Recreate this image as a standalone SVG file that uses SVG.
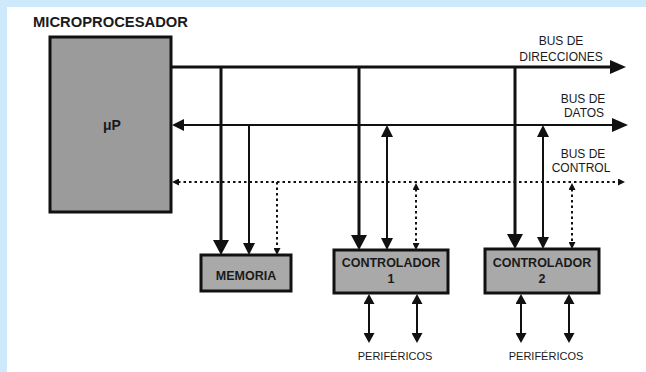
<svg xmlns="http://www.w3.org/2000/svg" width="646" height="372" viewBox="0 0 646 372">
<style>
.lbl{font-family:"Liberation Sans",Arial,sans-serif;fill:#1a1a1a}
.b{font-weight:bold}
.box{stroke:#111;stroke-width:3}
.addr{fill:none;stroke:#111;stroke-width:3}
.data{fill:none;stroke:#111;stroke-width:2}
.ctrl{fill:none;stroke:#111;stroke-width:2;stroke-dasharray:2.5 3}
</style>
<defs>
<marker id="ah-bus" markerUnits="userSpaceOnUse" viewBox="0 0 16 14" markerWidth="16" markerHeight="14" refX="1" refY="7" orient="auto-start-reverse"><path d="M0,0 L16,7 L0,14 z" fill="#111"/></marker>
<marker id="ah-big" markerUnits="userSpaceOnUse" viewBox="0 0 15 16" markerWidth="15" markerHeight="16" refX="1" refY="8" orient="auto-start-reverse"><path d="M0,0 L15,8 L0,16 z" fill="#111"/></marker>
<marker id="ah-mid" markerUnits="userSpaceOnUse" viewBox="0 0 12 12" markerWidth="12" markerHeight="12" refX="1" refY="6" orient="auto-start-reverse"><path d="M0,0 L12,6 L0,12 z" fill="#111"/></marker>
<marker id="ah-per" markerUnits="userSpaceOnUse" viewBox="0 0 10 11" markerWidth="10" markerHeight="11" refX="1" refY="5.5" orient="auto-start-reverse"><path d="M0,0 L10,5.5 L0,11 z" fill="#111"/></marker>
<marker id="ah-small" markerUnits="userSpaceOnUse" viewBox="0 0 7 7" markerWidth="7" markerHeight="7" refX="1" refY="3.5" orient="auto-start-reverse"><path d="M0,0 L7,3.5 L0,7 z" fill="#111"/></marker>
</defs>
<rect x="0" y="0" width="646" height="372" fill="#cde9fb"/>
<rect x="7" y="7" width="639" height="365" fill="#ffffff"/>
<text class="lbl b" x="33" y="27" font-size="14.5" textLength="155" lengthAdjust="spacingAndGlyphs">MICROPROCESADOR</text>

<g id="connectors">
<path class="addr" d="M171,67 H611" marker-end="url(#ah-bus)"/>
<path class="data" d="M183,125 H613" marker-start="url(#ah-mid)" marker-end="url(#ah-bus)"/>
<path class="ctrl" d="M178,182 H619" marker-start="url(#ah-small)" marker-end="url(#ah-small)"/>
<path class="addr" d="M221,67 V241" marker-end="url(#ah-big)"/>
<path class="data" d="M249,125 V244" marker-end="url(#ah-mid)"/>
<path class="ctrl" d="M277,182 V249" marker-end="url(#ah-small)"/>
<path class="addr" d="M359,67 V236" marker-end="url(#ah-big)"/>
<path class="data" d="M387,136 V239" marker-start="url(#ah-mid)" marker-end="url(#ah-mid)"/>
<path class="ctrl" d="M416,189 V244" marker-start="url(#ah-small)" marker-end="url(#ah-small)"/>
<path class="addr" d="M515,67 V235" marker-end="url(#ah-big)"/>
<path class="data" d="M543,136 V238" marker-start="url(#ah-mid)" marker-end="url(#ah-mid)"/>
<path class="ctrl" d="M572,189 V243" marker-start="url(#ah-small)" marker-end="url(#ah-small)"/>
<path class="data" d="M369,303 V334" marker-start="url(#ah-per)" marker-end="url(#ah-per)"/>
<path class="data" d="M417,303 V334" marker-start="url(#ah-per)" marker-end="url(#ah-per)"/>
<path class="data" d="M521,303 V334" marker-start="url(#ah-per)" marker-end="url(#ah-per)"/>
<path class="data" d="M569,303 V334" marker-start="url(#ah-per)" marker-end="url(#ah-per)"/>
</g>

<g id="bus-labels" class="lbl" font-size="12" text-anchor="middle">
<text x="561" y="45">BUS DE</text>
<text x="561" y="61">DIRECCIONES</text>
<text x="583" y="103">BUS DE</text>
<text x="584" y="117">DATOS</text>
<text x="583" y="158">BUS DE</text>
<text x="581" y="172">CONTROL</text>
</g>

<g id="microprocesador">
<rect class="box" x="50" y="37" width="121" height="175" fill="#9b9b9b"/>
<text class="lbl b" x="112" y="130" font-size="14" text-anchor="middle">μP</text>
</g>

<g id="memoria">
<rect class="box" x="201" y="255" width="90" height="36" fill="#a9a9a9"/>
<text class="lbl b" x="246" y="280" font-size="12.5" text-anchor="middle">MEMORIA</text>
</g>

<g id="controlador1">
<rect class="box" x="334" y="250" width="114" height="43" fill="#a9a9a9"/>
<text class="lbl b" x="391" y="267" font-size="12.5" text-anchor="middle">CONTROLADOR</text>
<text class="lbl b" x="391" y="283" font-size="12.5" text-anchor="middle">1</text>
</g>

<g id="controlador2">
<rect class="box" x="485" y="249" width="114" height="44" fill="#a9a9a9"/>
<text class="lbl b" x="542" y="267" font-size="12.5" text-anchor="middle">CONTROLADOR</text>
<text class="lbl b" x="542" y="283" font-size="12.5" text-anchor="middle">2</text>
</g>

<g id="perifericos1">
<text class="lbl" x="395" y="360" font-size="11" text-anchor="middle">PERIFÉRICOS</text>
</g>
<g id="perifericos2">
<text class="lbl" x="546" y="360" font-size="11" text-anchor="middle">PERIFÉRICOS</text>
</g>
</svg>
